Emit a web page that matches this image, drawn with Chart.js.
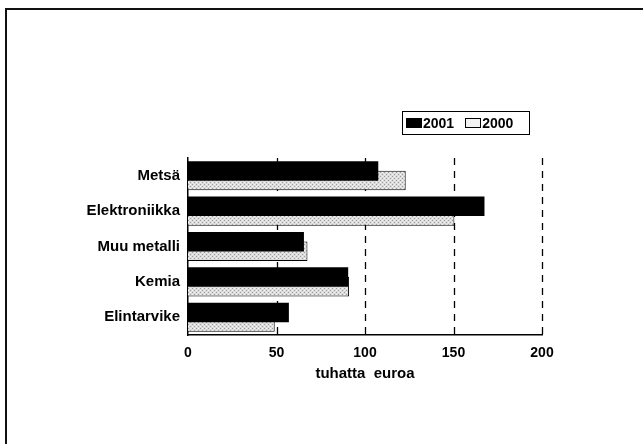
<!DOCTYPE html>
<html>
<head>
<meta charset="utf-8">
<script src="https://cdn.jsdelivr.net/npm/chart.js@4/dist/chart.umd.min.js"></script>
<style>
  html, body { margin: 0; padding: 0; background: #fff; }
  #wrap { position: relative; width: 643px; height: 444px; overflow: hidden; }
  #frame { position: absolute; left: 5px; top: 8px; width: 660px; height: 460px;
           border-left: 2px solid #111; border-top: 2px solid #111; }
  #c { position: absolute; left: 0; top: 0; }
  #legend { position: absolute; left: 402px; top: 111px; width: 123px; height: 22px;
            border: 1.5px solid #000; font: bold 14px "Liberation Sans", Arial, sans-serif;
            display: flex; align-items: center; padding-left: 3px; }
  .sw { display: inline-block; width: 16px; height: 10px; margin-right: 1px; box-sizing: border-box; }
  .sw.b { background: #000; }
  .sw.g { border: 1px solid #000; background: #f2f2f2; margin-left: 11px; }
</style>
</head>
<body>
<div id="wrap">
  <div id="frame"></div>
  <canvas id="c" width="643" height="444"></canvas>
  <div id="legend"><span class="sw b"></span>2001<span class="sw g"></span>2000</div>
</div>
<script>
// ——— DATA ———
const categories = ['Metsä', 'Elektroniikka', 'Muu metalli', 'Kemia', 'Elintarvike'];
const years = ['2001', '2000'];
const values2001 = [107.5, 167.5, 65.5, 90.5, 57];
const values2000 = [123, 150.5, 67.5, 91, 49];
const xTicks = [0, 50, 100, 150, 200];
const xTitle = 'tuhatta  euroa';

const FONT = "'Liberation Sans', Arial, sans-serif";

// stippled grey fill like the printed original
function greyPattern() {
  const p = document.createElement('canvas');
  p.width = 4; p.height = 4;
  const g = p.getContext('2d');
  g.fillStyle = '#dcdcdc';
  g.fillRect(0, 0, 4, 4);
  g.fillStyle = '#9c9c9c';
  g.fillRect(0, 0, 1, 1);
  g.fillRect(2, 2, 1, 1);
  g.fillStyle = '#f4f4f4';
  g.fillRect(2, 0, 1, 1);
  g.fillRect(0, 2, 1, 1);
  return g.createPattern(p, 'repeat');
}

const ctx = document.getElementById('c');
new Chart(ctx, {
  type: 'bar',
  data: {
    labels: categories,
    datasets: [
      { label: years[0], data: values2001, backgroundColor: '#000', borderColor: '#000', borderWidth: 0,
        categoryPercentage: 0.542, barPercentage: 2.03 },
      { label: years[1], data: values2000, backgroundColor: greyPattern(), borderColor: '#000', borderWidth: 1,
        categoryPercentage: 0.542, barPercentage: 2.03 }
    ]
  },
  options: {
    indexAxis: 'y',
    responsive: false,
    animation: false,
    devicePixelRatio: 1,
    layout: { padding: { left: 0, top: 158, right: 101, bottom: 59 } },
    plugins: { legend: { display: false }, tooltip: { enabled: false } },
    scales: {
      x: {
        min: 0, max: 200,
        afterBuildTicks: s => { s.ticks = xTicks.map(v => ({ value: v })); },
        afterFit: s => { s.height = 50; },
        grid: { display: false, drawTicks: false },
        border: { display: true, color: '#000', width: 1.5 },
        ticks: { color: '#000', padding: 10, font: { family: FONT, size: 14, weight: 'bold' } },
        title: { display: true, text: xTitle, color: '#000', padding: { top: 4, bottom: 2 },
                 font: { family: FONT, size: 15, weight: 'bold' } }
      },
      y: {
        afterFit: s => { s.width = 188; },
        grid: { display: false, drawTicks: false },
        border: { display: true, color: '#000', width: 1.5 },
        ticks: { color: '#000', padding: 8, font: { family: FONT, size: 15, weight: 'bold' } }
      }
    }
  },
  plugins: [{
    // dashed vertical gridlines, drawn behind the bars
    id: 'dashGrid',
    beforeDatasetsDraw(chart) {
      const { ctx: c, chartArea: a, scales: { x } } = chart;
      c.save();
      c.strokeStyle = '#000';
      c.lineWidth = 1.3;
      c.setLineDash([7, 6]);
      xTicks.slice(1).forEach(v => {
        const px = Math.round(x.getPixelForValue(v)) + 0.5;
        c.beginPath(); c.moveTo(px, a.top); c.lineTo(px, a.bottom); c.stroke();
      });
      c.restore();
    }
  }]
});
</script>
</body>
</html>
